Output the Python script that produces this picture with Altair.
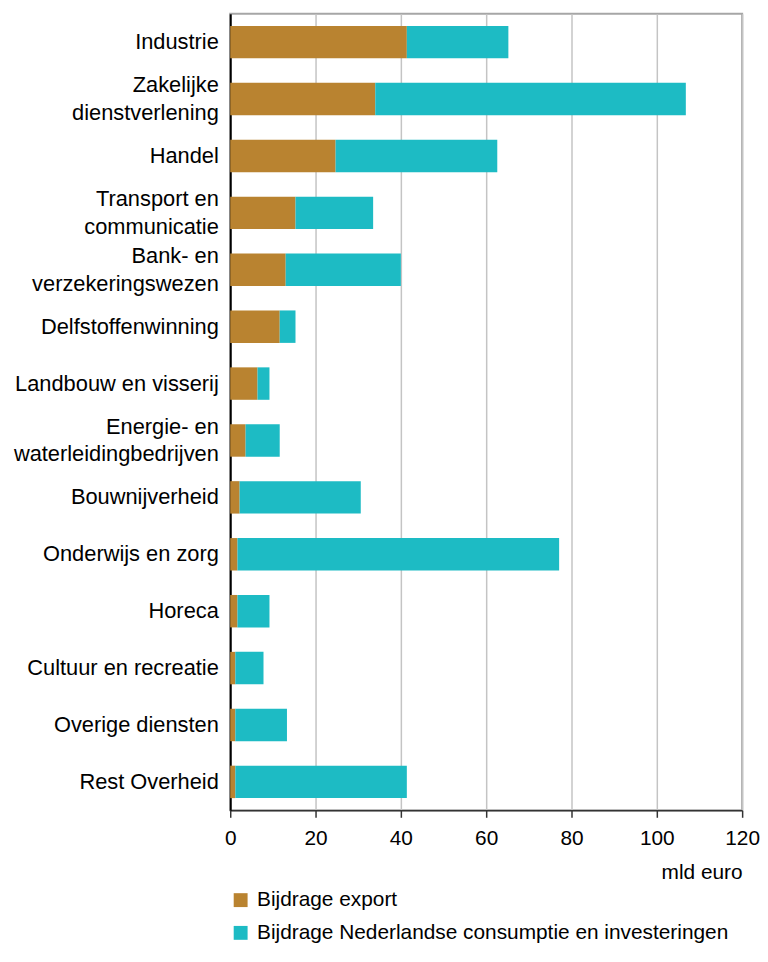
import altair as alt
import pandas as pd

categories = [
    "Industrie",
    "Zakelijke|dienstverlening",
    "Handel",
    "Transport en|communicatie",
    "Bank- en|verzekeringswezen",
    "Delfstoffenwinning",
    "Landbouw en visserij",
    "Energie- en|waterleidingbedrijven",
    "Bouwnijverheid",
    "Onderwijs en zorg",
    "Horeca",
    "Cultuur en recreatie",
    "Overige diensten",
    "Rest Overheid",
]
series = ["Bijdrage export", "Bijdrage Nederlandse consumptie en investeringen"]
export = [41.4, 34.0, 24.7, 15.3, 13.0, 11.6, 6.4, 3.6, 2.2, 1.7, 1.7, 1.2, 1.2, 1.2]
domestic = [23.8, 72.8, 37.9, 18.2, 27.0, 3.7, 2.8, 8.0, 28.4, 75.4, 7.5, 6.6, 12.1, 40.2]
x_ticks = [0, 20, 40, 60, 80, 100, 120]
colors = ["#B98330", "#1DBBC4"]

rows = []
for i, c in enumerate(categories):
    rows.append({"cat": c, "serie": series[0], "value": export[i], "ord": 0})
    rows.append({"cat": c, "serie": series[1], "value": domestic[i], "ord": 1})
df = pd.DataFrame(rows)

FONT = "Liberation Sans"

chart = (
    alt.Chart(df)
    .mark_bar(strokeWidth=0)
    .encode(
        x=alt.X(
            "value:Q",
            stack="zero",
            scale=alt.Scale(domain=[0, 120], nice=False),
            axis=alt.Axis(
                values=x_ticks,
                title="mld euro",
                titleAnchor="end",
                titleFontWeight="normal",
                titleFontSize=21,
                titleFont=FONT,
                titleColor="#000000",
                titlePadding=14,
                labelFontSize=21,
                labelFont=FONT,
                labelColor="#000000",
                labelPadding=10,
                tickSize=7,
                tickColor="#333333",
                tickWidth=1.5,
                domainColor="#333333",
                domainWidth=1.5,
                grid=True,
                gridColor="#C4C4C4",
                gridWidth=1.5,
                labelFlush=False,
            ),
        ),
        y=alt.Y(
            "cat:N",
            sort=categories,
            scale=alt.Scale(paddingInner=0.43, paddingOuter=0.215),
            axis=alt.Axis(
                title=None,
                labelExpr="split(datum.label, '|')",
                labelOffset={
                    "condition": {"test": "indexof(datum.value, '|') >= 0", "value": -14},
                    "value": 0,
                },
                ticks=False,
                tickSize=0,
                labelPadding=12,
                labelFontSize=22,
                labelFont=FONT,
                labelColor="#000000",
                labelLineHeight=28,
                labelLimit=400,
                domainColor="#000000",
                domainWidth=2,
                grid=False,
            ),
        ),
        color=alt.Color(
            "serie:N",
            scale=alt.Scale(domain=series, range=colors),
            legend=alt.Legend(
                orient="none",
                legendX=0,
                legendY=883,
                title=None,
                direction="vertical",
                symbolType="square",
                symbolSize=196,
                symbolStrokeWidth=0,
                labelFontSize=21,
                labelFont=FONT,
                labelColor="#000000",
                labelOffset=6,
                rowPadding=11,
                labelLimit=600,
            ),
        ),
        order=alt.Order("ord:Q"),
    )
    .properties(
        width=516,
        height=803,
        padding={"left": 5, "top": 2, "right": 0, "bottom": 0},
    )
    .configure_view(stroke="#A6A6A6", strokeWidth=2)
)

chart.save("out.html", embed_options={"renderer": "svg", "actions": False})
